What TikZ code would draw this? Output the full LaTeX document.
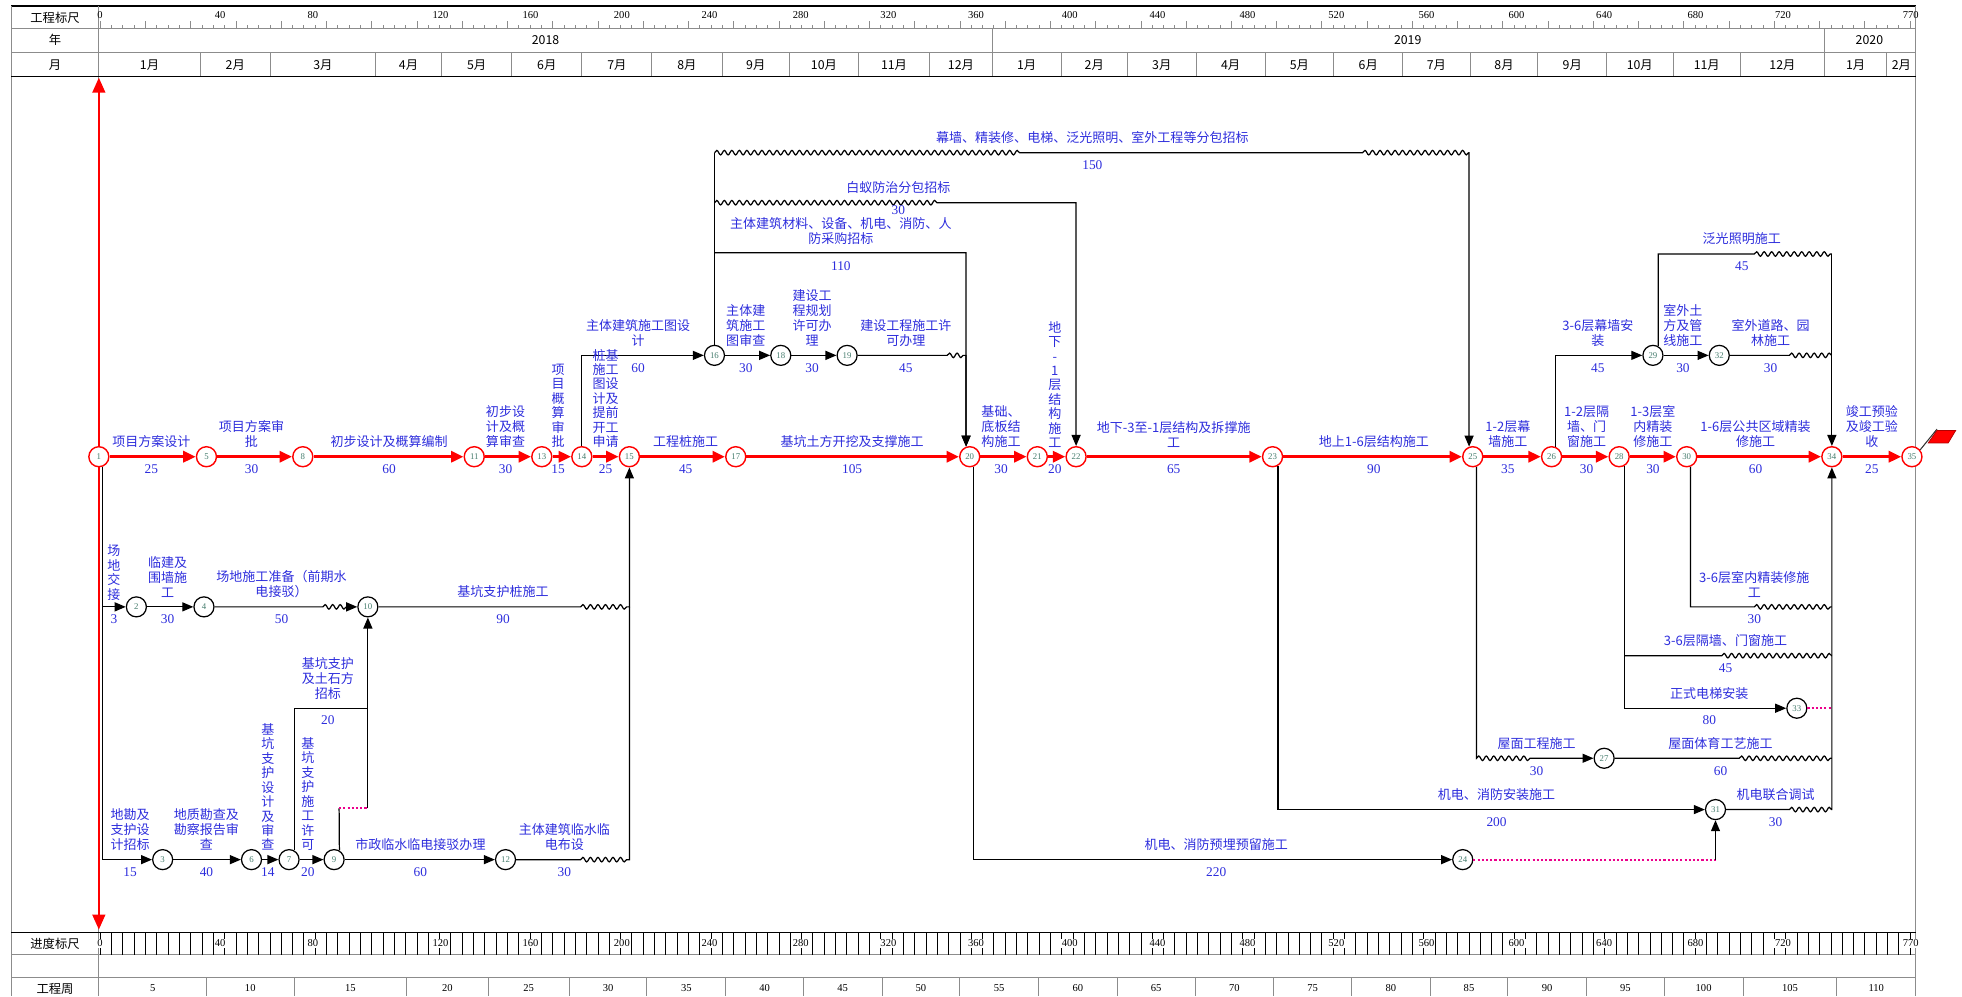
\documentclass[tikz,border=0pt]{standalone}
\usepackage{fontspec}
\setmainfont{Liberation Serif}
\newfontfamily\cjk{Noto Sans CJK SC}
\usetikzlibrary{arrows.meta,decorations.pathmorphing}

\definecolor{labblue}{RGB}{45,45,220}
\definecolor{numgreen}{RGB}{70,125,110}
\definecolor{gridgray}{RGB}{140,140,140}

\newcommand*{\labfont}{\cjk\fontsize{7.4}{8.5}\selectfont}
\newcommand*{\vfont}{\cjk\fontsize{7.4}{8.2}\selectfont}
\newcommand*{\daysfont}{\rmfamily\fontsize{7.6}{8}\selectfont}
\newcommand*{\numfont}{\rmfamily\fontsize{5}{5}\selectfont}
\newcommand*{\headfont}{\cjk\fontsize{7}{8}\selectfont}
\newcommand*{\rulerfont}{\rmfamily\fontsize{6}{7}\selectfont}

\newcommand*{\xl}{9}
\newcommand*{\xo}{79}
\newcommand*{\xr}{1531}

% task above the arrow, duration below
\newcommand*{\job}[5]{%
	\node[task] (t#1) at (#2,#3-7) {#4};
	\node[days] (d#1) at (#2,#3+6) {#5};}

\begin{document}
\begin{tikzpicture}
[
	x=0.025cm, y=-0.025cm,
	crit/.style={circle,draw=red,fill=white,line width=0.8pt,minimum size=0.4cm,inner sep=0pt,font=\numfont,text=numgreen},
	event/.style={circle,draw=black,fill=white,line width=0.7pt,minimum size=0.4cm,inner sep=0pt,font=\numfont,text=numgreen},
	critline/.style={red,line width=2pt,-{Triangle[length=0.25cm,width=0.22cm]}},
	act/.style={black,line width=0.7pt,-{Triangle[length=0.22cm,width=0.18cm]}},
	plain/.style={black,line width=0.7pt},
	virt/.style={magenta,line width=1pt,dash pattern=on 1.2pt off 1.2pt},
	task/.style={anchor=south,inner sep=0pt,align=center,text=labblue,font=\labfont},
	vtask/.style={anchor=south,inner sep=0pt,align=center,text=labblue,font=\vfont},
	days/.style={anchor=north,inner sep=0pt,text=labblue,font=\daysfont},
	head/.style={inner sep=0pt,font=\headfont},
	ruler/.style={inner sep=0.6pt,font=\rulerfont},
	gridline/.style={gridgray,line width=0.5pt},
	decoration={snake,segment length=0.15cm,amplitude=0.045cm}
]
	\useasboundingbox (0,0) rectangle (1568,796);

	% frame and header
	\draw[black,line width=1pt] (\xl,5) -- (\xr,5);
	\draw[gridline] (\xl,5) -- (\xl,796);
	\draw[gridline] (\xo,5) -- (\xo,796);
	\draw[gridline] (\xr,5) -- (\xr,796);
	\draw[gridline] (\xl,23) -- (\xr,23);
	\draw[gridline] (\xl,42) -- (\xr,42);
	\draw[black,line width=0.8pt] (\xl,61) -- (\xr,61);
	\draw[black,line width=0.8pt] (\xl,745) -- (\xr,745);
	\draw[gridline] (\xl,763) -- (\xr,763);
	\draw[gridline] (\xl,781) -- (\xr,781);
	\draw[gridline] (793,23) -- (793,42);
	\draw[gridline] (1458,23) -- (1458,42);

	\node[head] (hruler) at (44,14) {工程标尺};
	\node[head] (hyear) at (44,32) {年};
	\node[head] (hmonth) at (44,52) {月};
	\node[head] (hprog) at (44,754) {进度标尺};
	\node[head] (hweek) at (44,790) {工程周};

	\node[head] (y2018) at (436,32) {2018};
	\node[head] (y2019) at (1125,32) {2019};
	\node[head] (y2020) at (1494,32) {2020};

	\foreach \a/\b/\m in {79/160/1月,160/216/2月,216/300/3月,300/353/4月,353/409/5月,409/465/6月,
		465/521/7月,521/577/8月,577/631/9月,631/686/10月,686/743/11月,743/793/12月,
		793/848/1月,848/901/2月,901/956/3月,956/1011/4月,1011/1066/5月,1066/1121/6月,
		1121/1175/7月,1175/1229/8月,1229/1284/9月,1284/1337/10月,1337/1391/11月,
		1391/1458/12月,1458/1508/1月,1508/1531/2月}
	{
		\draw[gridline] (\b,42) -- (\b,61);
		\node[head] (m\a) at ({(\a+\b)/2},52) {\m};
	}

	% rulers
	\foreach \i in {0,...,160}
	{
		\draw[gridgray,line width=0.3pt] ({80+\i*9.04},23) -- ++(0,-3);
		\draw[black,line width=0.3pt] ({80+\i*9.04},745) -- ++(0,18);
	}
	\foreach \i in {0,...,40}
		\draw[gridgray,line width=0.3pt] ({80+\i*36.16},23) -- ++(0,-6);
	\foreach \p/\v in {80/0,176/40,250/80,352/120,424/160,497/200,567/240,640/280,710/320,780/360,
		855/400,925/440,997/480,1068/520,1140/560,1212/600,1282/640,1355/680,1425/720,1527/770}
	{
		\node[ruler] (ra\v) at (\p,12) {\v};
		\node[ruler,fill=white] (rb\v) at (\p,754) {\v};
	}
	\foreach \a/\b/\w in {79/165/5,165/235/10,235/325/15,325/390/20,390/455/25,455/517/30,
		517/580/35,580/642/40,642/705/45,705/767/50,767/830/55,830/893/60,893/955/65,
		955/1018/70,1018/1080/75,1080/1143/80,1143/1205/85,1205/1268/90,1268/1330/95,
		1330/1393/100,1393/1468/105,1468/1531/110}
	{
		\draw[gridline] (\b,781) -- (\b,796);
		\node[ruler] (w\a) at ({(\a+\b)/2},790) {\w};
	}

	% check line
	\draw[red,line width=1.5pt,{Triangle[length=0.3cm,width=0.25cm]}-{Triangle[length=0.3cm,width=0.25cm]}] (\xo,62) -- (\xo,743);

	% events on the critical path
	\node[crit] (n1) at (79,365) {1};
	\node[crit] (n5) at (165,365) {5};
	\node[crit] (n8) at (242,365) {8};
	\node[crit] (n11) at (379,365) {11};
	\node[crit] (n13) at (433,365) {13};
	\node[crit] (n14) at (465,365) {14};
	\node[crit] (n15) at (503,365) {15};
	\node[crit] (n17) at (588,365) {17};
	\node[crit] (n20) at (775,365) {20};
	\node[crit] (n21) at (829,365) {21};
	\node[crit] (n22) at (860,365) {22};
	\node[crit] (n23) at (1017,365) {23};
	\node[crit] (n25) at (1177,365) {25};
	\node[crit] (n26) at (1240,365) {26};
	\node[crit] (n28) at (1294,365) {28};
	\node[crit] (n30) at (1348,365) {30};
	\node[crit] (n34) at (1464,365) {34};
	\node[crit] (n35) at (1528,365) {35};

	% other events
	\node[event] (n2) at (109,485) {2};
	\node[event] (n4) at (163,485) {4};
	\node[event] (n10) at (294,485) {10};
	\node[event] (n3) at (130,687) {3};
	\node[event] (n6) at (201,687) {6};
	\node[event] (n7) at (231,687) {7};
	\node[event] (n9) at (267,687) {9};
	\node[event] (n12) at (404,687) {12};
	\node[event] (n16) at (571,284) {16};
	\node[event] (n18) at (624,284) {18};
	\node[event] (n19) at (677,284) {19};
	\node[event] (n29) at (1321,284) {29};
	\node[event] (n32) at (1374,284) {32};
	\node[event] (n33) at (1436,566) {33};
	\node[event] (n27) at (1282,606) {27};
	\node[event] (n31) at (1371,647) {31};
	\node[event] (n24) at (1169,687) {24};

	% bends and float ends
	\coordinate (c150a) at (571,122);
	\coordinate (w150a) at (815,122);
	\coordinate (w150b) at (1089,122);
	\coordinate (c150b) at (1174,122);
	\coordinate (c30a) at (571,162);
	\coordinate (w30a) at (751,162);
	\coordinate (c30b) at (860,162);
	\coordinate (c110a) at (571,202);
	\coordinate (c110b) at (772,202);
	\coordinate (w19) at (757,284);
	\coordinate (c19) at (772,284);
	\coordinate (w4a) at (258,485);
	\coordinate (w4b) at (278,485);
	\coordinate (w10) at (464,485);
	\coordinate (w12) at (464,687);
	\coordinate (c7) at (294,566);
	\coordinate (c9) at (271,646);
	\coordinate (c24) at (1371,687);
	\coordinate (w31) at (1430,647);
	\coordinate (w25) at (1223,606);
	\coordinate (w27) at (1390,606);
	\coordinate (c28) at (1298,524);
	\coordinate (w28) at (1376,524);
	\coordinate (w30) at (1402,485);
	\coordinate (w32) at (1430,284);
	\coordinate (w29) at (1402,203);

	% critical path
	\foreach \a/\b in {1/5,5/8,8/11,11/13,13/14,14/15,15/17,17/20,20/21,21/22,22/23,23/25,
		25/26,26/28,28/30,30/34,34/35}
		\draw[critline] (n\a) -- (n\b);

	% site and design branch
	\draw[act] (n1.-70) |- (n2);
	\draw[act] (n2) -- (n4);
	\draw[act] (n4) -- (w4a) decorate {-- (w4b)} -- (n10);
	\draw[act] (n10) -- (w10) decorate {-- (n10 -| n15)} -- (n15);
	\draw[act] (n1.-70) |- (n3);
	\draw[act] (n3) -- (n6);
	\draw[act] (n6) -- (n7);
	\draw[act] (n7) -- (n9);
	\draw[act] (n9) -- (n12);
	\draw[plain] (n12) -- (w12) decorate {-- (n12 -| n15)} -- (n10 -| n15);
	\draw[act] (n7.60) |- (c7) -- (n10);
	\draw[plain] (n9.60) -- (c9);
	\draw[virt] (c9) -- (c9 -| c7);
	\draw[plain] (c9 -| c7) -- (c7);

	% drawings, permits and tenders
	\draw[act] (n14) |- (n16);
	\draw[act] (n16) -- (n18);
	\draw[act] (n18) -- (n19);
	\draw[act] (n19) -- (w19) decorate {-- (c19)} -- (n20.110);
	\draw[plain] (n16) -- (c150a);
	\draw[act] (c110a) -- (c110b) -- (n20.110);
	\draw[act] (c30a) decorate {-- (w30a)} -- (c30b) -- (n22);
	\draw[act] (c150a) decorate {-- (w150a)} -- (w150b) decorate {-- (c150b)} -- (n25.110);

	% services
	\draw[act] (n20.-70) |- (n24);
	\draw[virt] (n24) -- (c24);
	\draw[act] (c24) -- (n31);
	\draw[act] (n23.-60) |- (n31);
	\draw[act] (n31) -- (w31) decorate {-- (n31 -| n34)} -- (n34);

	% finishes
	\draw[act] (n25.-70) -- (n25.-70 |- n27) decorate {-- (w25)} -- (n27);
	\draw[plain] (n27) -- (w27) decorate {-- (n27 -| n34)};
	\draw[act] (n28.-60) |- (n33);
	\draw[virt] (n33) -- (n33 -| n34);
	\draw[plain] (c28) -- (w28) decorate {-- (w28 -| n34)};
	\draw[plain] (n30.-70) |- (w30) decorate {-- (w30 -| n34)};
	\draw[act] (n26.70) |- (n29);
	\draw[act] (n29) -- (n32);
	\draw[plain] (n32) -- (w32) decorate {-- (w32 -| n34)};
	\draw[plain] (n29.60) |- (w29) decorate {-- (w29 -| n34)};
	\draw[act] (w29 -| n34) -- (n34);

	% flag
	\draw[black!80,line width=0.6pt] (n35.40) -- (1548,343);
	\filldraw[fill=red,draw=red!70!black,line width=0.4pt] (1541,354) -- (1548,344) -- (1563,344) -- (1557,354) -- cycle;

	% labels on the critical path
	\job{5}{121}{365}{项目方案设计}{25}
	\job{8}{201}{365}{项目方案审\\批}{30}
	\job{11}{311}{365}{初步设计及概算编制}{60}
	\job{13}{404}{365}{初步设\\计及概\\算审查}{30}
	\node[vtask] (t14) at (446,358) {项\\目\\概\\算\\审\\批};
	\node[days] (d14) at (446,371) {15};
	\node[vtask] (t15) at (484,358) {桩基\\施工\\图设\\计及\\提前\\开工\\申请};
	\node[days] (d15) at (484,371) {25};
	\job{17}{548}{365}{工程桩施工}{45}
	\job{20}{681}{365}{基坑土方开挖及支撑施工}{105}
	\job{21}{800}{365}{基础、\\底板结\\构施工}{30}
	\node[vtask] (t22) at (843,358) {地\\下\\-\\1\\层\\结\\构\\施\\工};
	\node[days] (d22) at (843,371) {20};
	\job{23}{938}{365}{地下-3至-1层结构及拆撑施\\工}{65}
	\job{25}{1098}{365}{地上1-6层结构施工}{90}
	\job{26}{1205}{365}{1-2层幕\\墙施工}{35}
	\job{28}{1268}{365}{1-2层隔\\墙、门\\窗施工}{30}
	\job{30}{1321}{365}{1-3层室\\内精装\\修施工}{30}
	\job{34}{1403}{365}{1-6层公共区域精装\\修施工}{60}
	\job{35}{1496}{365}{竣工预验\\及竣工验\\收}{25}

	% labels below the critical path
	\node[vtask] (t2) at (91,480) {场\\地\\交\\接};
	\node[days] (d2) at (91,491) {3};
	\job{4}{134}{485}{临建及\\围墙施\\工}{30}
	\job{10}{225}{485}{场地施工准备（前期水\\电接驳）}{50}
	\job{15b}{402}{485}{基坑支护桩施工}{90}
	\job{10b}{262}{566}{基坑支护\\及土石方\\招标}{20}
	\job{3}{104}{687}{地勘及\\支护设\\计招标}{15}
	\job{6}{165}{687}{地质勘查及\\勘察报告审\\查}{40}
	\node[vtask] (t7) at (214,680) {基\\坑\\支\\护\\设\\计\\及\\审\\查};
	\node[days] (d7) at (214,693) {14};
	\node[vtask] (t9) at (246,680) {基\\坑\\支\\护\\施\\工\\许\\可};
	\node[days] (d9) at (246,693) {20};
	\job{12}{336}{687}{市政临水临电接驳办理}{60}
	\job{15c}{451}{687}{主体建筑临水临\\电布设}{30}
	\job{24}{972}{687}{机电、消防预埋预留施工}{220}
	\job{31}{1196}{647}{机电、消防安装施工}{200}
	\job{34g}{1419}{647}{机电联合调试}{30}
	\job{27}{1228}{606}{屋面工程施工}{30}
	\job{34f}{1375}{606}{屋面体育工艺施工}{60}
	\job{33}{1366}{566}{正式电梯安装}{80}
	\job{34e}{1379}{524}{3-6层隔墙、门窗施工}{45}
	\job{34d}{1402}{485}{3-6层室内精装修施\\工}{30}

	% labels above the critical path
	\job{16}{510}{284}{主体建筑施工图设\\计}{60}
	\job{18}{596}{284}{主体建\\筑施工\\图审查}{30}
	\job{19}{649}{284}{建设工\\程规划\\许可办\\理}{30}
	\job{20b}{724}{284}{建设工程施工许\\可办理}{45}
	\job{20c}{672}{203}{主体建筑材料、设备、机电、消防、人\\防采购招标}{110}
	\node[task] (t22b) at (718,155) {白蚁防治分包招标};
	\node[days] (d22b) at (718,164) {30};
	\job{25b}{873}{122}{幕墙、精装修、电梯、泛光照明、室外工程等分包招标}{150}
	\job{29}{1277}{284}{3-6层幕墙安\\装}{45}
	\job{32}{1345}{284}{室外土\\方及管\\线施工}{30}
	\job{34b}{1415}{284}{室外道路、园\\林施工}{30}
	\job{34c}{1392}{203}{泛光照明施工}{45}

\end{tikzpicture}
\end{document}
